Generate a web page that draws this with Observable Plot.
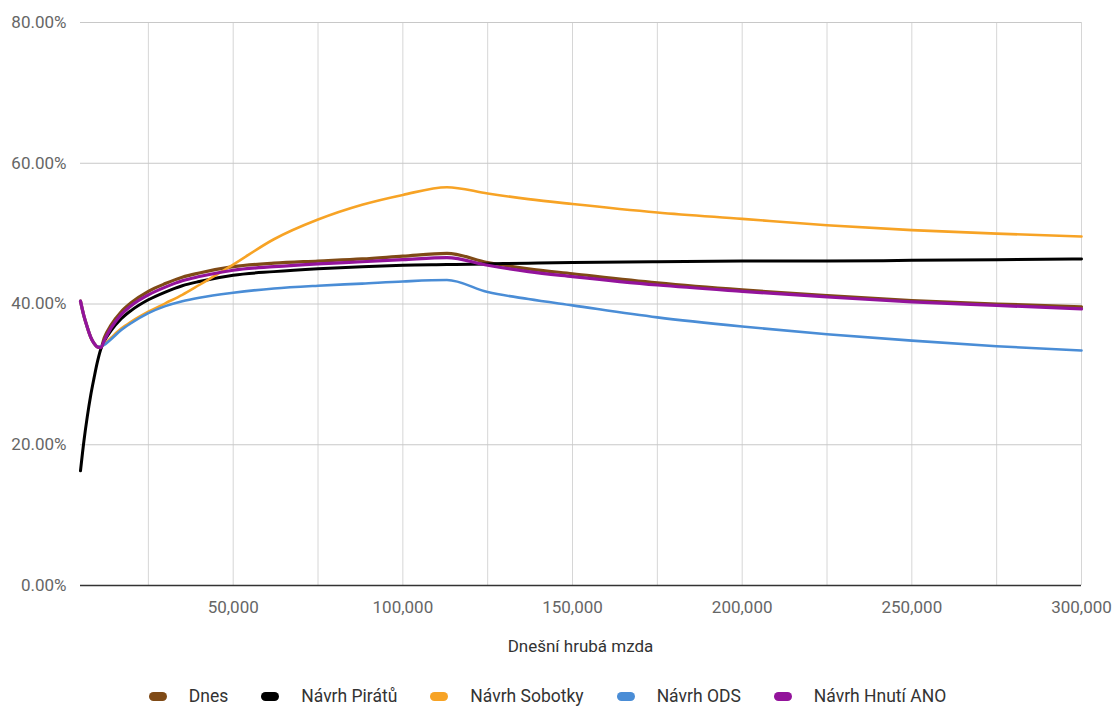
<!DOCTYPE html>
<html>
<head>
<meta charset="utf-8">
<script src="https://cdn.jsdelivr.net/npm/d3@7"></script>
<script src="https://cdn.jsdelivr.net/npm/@observablehq/plot@0.6"></script>
<style>
  html, body { margin: 0; padding: 0; background: #fff; }
  #wrap { position: relative; width: 1114px; height: 706px; font-family: Roboto, "Noto Sans", sans-serif; }
  #xtitle { position: absolute; left: 80px; width: 1001px; top: 636px; text-align: center; font-size: 17px; color: #333; }
  #legend { position: absolute; left: 0; top: 686px; width: 1114px; box-sizing: border-box; padding-right: 19px;
            display: flex; justify-content: center; align-items: center; font-size: 17.5px; color: #333; }
  .item { display: flex; align-items: center; margin: 0 16.5px; }
  .sw { width: 18px; height: 9px; border-radius: 5px; margin-right: 22px; }
</style>
</head>
<body>
<div id="wrap">
  <div id="chart"></div>
  <div id="xtitle"></div>
  <div id="legend"></div>
</div>
<script>
// ---- data ----
const wages = [5000, 6000, 7000, 8000, 9000, 10000, 11000, 12000, 14000, 17000, 20000, 25000, 30000, 35000, 40000, 50000, 62000, 75000, 88000, 100000, 113000, 125000, 137000, 150000, 175000, 200000, 225000, 250000, 275000, 300000];

const seriesNames = ["Dnes", "Návrh Pirátů", "Návrh Sobotky", "Návrh ODS", "Návrh Hnutí ANO"];
const seriesColors = ["#7f4a16", "#000000", "#f7a325", "#4a8dd6", "#93139b"];

const dnes    = [40.4, 38.3, 36.7, 35.3, 34.4, 33.9, 33.8, 35.2, 37.0, 38.9, 40.2, 41.8, 42.9, 43.8, 44.4, 45.3, 45.8, 46.1, 46.4, 46.8, 47.2, 45.9, 45.0, 44.3, 43.0, 42.0, 41.2, 40.5, 40.0, 39.6];
const pirati  = [16.3, 20.5, 24.0, 27.0, 29.5, 31.8, 33.6, 34.7, 36.2, 37.9, 39.1, 40.6, 41.7, 42.6, 43.2, 44.1, 44.6, 45.0, 45.3, 45.5, 45.6, 45.7, 45.8, 45.9, 46.0, 46.1, 46.1, 46.2, 46.3, 46.4];
const sobotka = [40.4, 38.3, 36.7, 35.3, 34.4, 33.9, 34.0, 34.3, 35.2, 36.5, 37.5, 38.9, 40.1, 41.3, 42.7, 45.6, 49.2, 52.0, 54.1, 55.5, 56.6, 55.7, 54.9, 54.2, 53.0, 52.1, 51.2, 50.5, 50.0, 49.6];
const ods     = [40.4, 38.3, 36.7, 35.3, 34.4, 33.9, 34.0, 34.2, 35.0, 36.3, 37.3, 38.7, 39.7, 40.4, 40.9, 41.6, 42.2, 42.6, 42.9, 43.2, 43.4, 41.7, 40.7, 39.8, 38.1, 36.8, 35.7, 34.8, 34.0, 33.4];
const ano     = [40.4, 38.3, 36.7, 35.3, 34.4, 33.9, 33.8, 34.8, 36.6, 38.5, 39.8, 41.3, 42.4, 43.3, 43.9, 44.8, 45.3, 45.7, 46.0, 46.3, 46.6, 45.5, 44.6, 43.9, 42.7, 41.8, 41.0, 40.3, 39.8, 39.3];

const yTicks = [0, 20, 40, 60, 80];
const xLabelTicks = [50000, 100000, 150000, 200000, 250000, 300000];
const xGridTicks = [25000, 50000, 75000, 100000, 125000, 150000, 175000, 200000, 225000, 250000, 275000, 300000];
const xTitle = "Dnešní hrubá mzda";

// ---- build ----
const valueArrays = [dnes, pirati, sobotka, ods, ano];
const widths = [3.2, 3, 2.6, 2.6, 3.2];
const rows = [];
valueArrays.forEach((arr, si) => arr.forEach((v, i) => rows.push({series: seriesNames[si], wage: wages[i], value: v})));

const lineMarks = seriesNames.map((name, si) =>
  Plot.line(rows.filter(r => r.series === name), {
    x: "wage", y: "value", stroke: seriesColors[si], strokeWidth: widths[si],
    curve: "monotone-x", strokeLinejoin: "round", strokeLinecap: "round"
  })
);

const chart = Plot.plot({
  width: 1114,
  height: 625,
  marginLeft: 80,
  marginRight: 33,
  marginTop: 22,
  marginBottom: 40,
  style: { fontFamily: "Roboto, 'Noto Sans', sans-serif", fontSize: "17px", color: "#666", background: "#fff" },
  x: { domain: [5000, 300000] },
  y: { domain: [0, 80] },
  marks: [
    Plot.gridX(xGridTicks, { stroke: "#d6d6d6", strokeOpacity: 1, strokeWidth: 1 }),
    Plot.gridY(yTicks, { stroke: "#c8c8c8", strokeOpacity: 1, strokeWidth: 1 }),
    Plot.ruleY([0], { stroke: "#333", strokeWidth: 1.5 }),
    Plot.axisX(xLabelTicks, { tickSize: 0, tickPadding: 15, tickFormat: d3.format(","), label: null, fill: "#666" }),
    Plot.axisY(yTicks, { tickSize: 0, tickPadding: 14, tickFormat: d => d.toFixed(2) + "%", label: null, fill: "#666" }),
    ...lineMarks
  ]
});
document.getElementById("chart").appendChild(chart);

document.getElementById("xtitle").textContent = xTitle;
const legend = document.getElementById("legend");
seriesNames.forEach((name, si) => {
  const item = document.createElement("div");
  item.className = "item";
  const sw = document.createElement("span");
  sw.className = "sw";
  sw.style.background = seriesColors[si];
  const t = document.createElement("span");
  t.textContent = name;
  item.appendChild(sw);
  item.appendChild(t);
  legend.appendChild(item);
});
</script>
</body>
</html>
